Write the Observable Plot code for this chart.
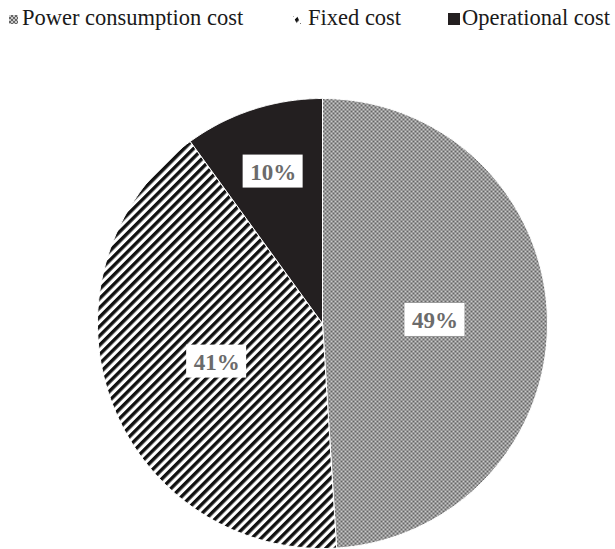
<!DOCTYPE html>
<html><head><meta charset="utf-8">
<script src="https://cdn.jsdelivr.net/npm/d3@7"></script>
<script src="https://cdn.jsdelivr.net/npm/@observablehq/plot@0.6"></script>
<style>
body{margin:0;background:#fff;font-family:"Liberation Serif","Times New Roman",Tinos,serif;}
#legend{position:relative;height:40px;width:615px;}
.item{position:absolute;top:4px;font-size:22.5px;color:#1a1a1a;white-space:nowrap;line-height:28px;font-family:"Liberation Serif","Times New Roman",Tinos,serif;}
#chart{width:615px;height:509px;}
</style></head>
<body>
<svg width="0" height="0" style="position:absolute">
  <defs>
    <pattern id="pat-checker" width="4" height="4" patternUnits="userSpaceOnUse">
      <rect width="4" height="4" fill="#c9c9c9"/>
      <rect x="0" y="0" width="2" height="2" fill="#666666"/>
      <rect x="2" y="2" width="2" height="2" fill="#666666"/>
    </pattern>
    <pattern id="pat-stripes" width="6.6" height="6.6" patternUnits="userSpaceOnUse" patternTransform="rotate(45)">
      <rect width="6.6" height="6.6" fill="#ffffff"/>
      <rect x="0" y="0" width="3.4" height="6.6" fill="#111111"/>
    </pattern>
  </defs>
</svg>
<div id="legend"></div>
<div id="chart"></div>
<script>
const categories = ["Power consumption cost", "Fixed cost", "Operational cost"];
const shares = [49, 41, 10];
const labels = ["49%", "41%", "10%"];
const fills = ["url(#pat-checker)", "url(#pat-stripes)", "#231f20"];

// layout constants (not data)
const labelRadius = [0.5, 0.5, 0.71];
const boxHalfW = 30 / 225, boxHalfH = 16.5 / 225;

const pie = d3.pie().sort(null).value(d => d)(shares);
const slices = pie.map((p, i) => {
  const pts = [{x: 0, y: 0}];
  const n = 120;
  for (let k = 0; k <= n; k++) {
    const a = p.startAngle + (p.endAngle - p.startAngle) * k / n;
    pts.push({x: Math.sin(a), y: Math.cos(a)});
  }
  pts.push({x: 0, y: 0});
  return pts;
});
const labelData = pie.map((p, i) => {
  const a = (p.startAngle + p.endAngle) / 2;
  const r = labelRadius[i];
  return {x: r * Math.sin(a), y: r * Math.cos(a), label: labels[i]};
});

const chart = Plot.plot({
  width: 615, height: 509,
  marginLeft: 97, marginRight: 68, marginTop: 58, marginBottom: 1,
  x: {domain: [-1, 1], axis: null},
  y: {domain: [-1, 1], axis: null},
  style: {background: "white", fontFamily: "'Liberation Serif','Times New Roman',Tinos,serif"},
  marks: [
    ...slices.map((pts, i) => Plot.line(pts, {x: "x", y: "y", fill: fills[i], stroke: "white", strokeWidth: 1, curve: "linear"})),
    Plot.rect(labelData, {x1: d => d.x - boxHalfW, x2: d => d.x + boxHalfW, y1: d => d.y - boxHalfH, y2: d => d.y + boxHalfH, fill: "white"}),
    Plot.text(labelData, {x: "x", y: "y", text: "label", fill: "#6b6b6b", fontSize: 23, fontWeight: "bold", dy: 1})
  ]
});
document.getElementById("chart").appendChild(chart);

// legend
const legendPos = [{mx: 9, tx: 22, ms: 9}, {mx: 292, tx: 308, ms: 9}, {mx: 448, tx: 462, ms: 12}];
const legend = document.getElementById("legend");
categories.forEach((c, i) => {
  const item = document.createElement("div");
  item.className = "item";
  item.style.left = legendPos[i].tx + "px";
  item.textContent = c;
  legend.appendChild(item);
  const s = d3.create("svg").attr("width", 14).attr("height", 14)
    .style("position", "absolute").style("left", legendPos[i].mx + "px").style("top", "13px");
  if (i === 0) s.append("rect").attr("x", 0).attr("y", 2).attr("width", 9).attr("height", 9).attr("fill", fills[0]);
  else if (i === 1) s.append("path").attr("d", "M1,3 L5,3 L9,11 L5,11 Z").attr("fill", fills[1]);
  else s.append("rect").attr("x", 0).attr("y", 0).attr("width", 12).attr("height", 12).attr("fill", fills[2]);
  legend.appendChild(s.node());
});
</script>
</body></html>
